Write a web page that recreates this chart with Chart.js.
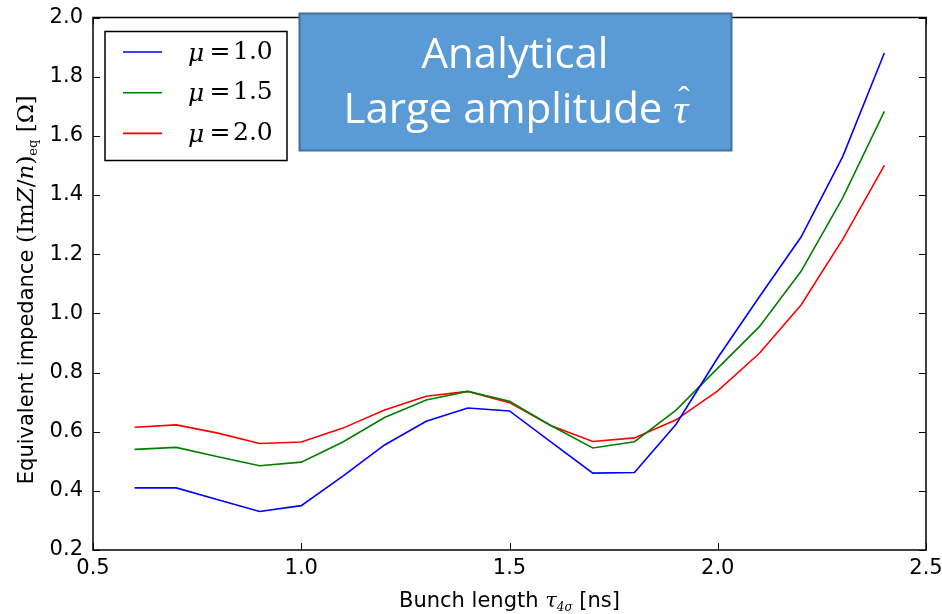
<!DOCTYPE html>
<html>
<head>
<meta charset="utf-8">
<script src="https://cdn.jsdelivr.net/npm/chart.js@4"></script>
<style>
  html, body { margin: 0; padding: 0; background: #fff; }
  #chart { display: block; }
</style>
</head>
<body>
<canvas id="chart" width="942" height="614"></canvas>
<script>
// bunch length [ns]
const bunchLength = [0.6, 0.7, 0.8, 0.9, 1.0, 1.1, 1.2, 1.3, 1.4, 1.5, 1.6, 1.7, 1.8, 1.9, 2.0, 2.1, 2.2, 2.3, 2.4];
const muLabels = ['1.0', '1.5', '2.0'];
// equivalent impedance for each mu
const impMu10 = [0.41, 0.41, 0.37, 0.33, 0.35, 0.45, 0.555, 0.635, 0.68, 0.67, 0.565, 0.46, 0.462, 0.625, 0.85, 1.056, 1.258, 1.53, 1.88];
const impMu15 = [0.54, 0.547, 0.515, 0.485, 0.497, 0.565, 0.648, 0.707, 0.736, 0.703, 0.62, 0.545, 0.566, 0.673, 0.815, 0.955, 1.142, 1.39, 1.683];
const impMu20 = [0.615, 0.623, 0.595, 0.56, 0.565, 0.612, 0.673, 0.72, 0.736, 0.698, 0.62, 0.567, 0.579, 0.64, 0.738, 0.865, 1.028, 1.25, 1.50];
const lineColors = ['#0000ff', '#008000', '#ff0000'];

const SANS = "'DejaVu Sans'";
const SERIF = "'DejaVu Serif'";

function drawRuns(ctx, runs, x, y) {
  // runs: [text, font, dy]; drawn centred on x
  let total = 0;
  runs.forEach(r => { ctx.font = r[1]; total += ctx.measureText(r[0]).width; });
  let cx = x - total / 2;
  ctx.textAlign = 'left';
  runs.forEach(r => {
    ctx.font = r[1];
    ctx.fillText(r[0], cx, y + (r[2] || 0));
    cx += ctx.measureText(r[0]).width;
  });
}

const decorations = {
  id: 'decorations',
  afterDraw(chart) {
    const ctx = chart.ctx;
    const a = chart.chartArea;
    const xs = chart.scales.x, ys = chart.scales.y;
    ctx.save();

    // frame
    ctx.strokeStyle = '#000';
    ctx.lineWidth = 1.5;
    ctx.strokeRect(a.left, a.top, a.right - a.left, a.bottom - a.top);

    // inward ticks on all four sides
    ctx.lineWidth = 1;
    ctx.beginPath();
    xs.ticks.forEach(t => {
      const px = Math.round(xs.getPixelForValue(t.value)) + 0.5;
      ctx.moveTo(px, a.bottom); ctx.lineTo(px, a.bottom - 7);
      ctx.moveTo(px, a.top); ctx.lineTo(px, a.top + 7);
    });
    ys.ticks.forEach(t => {
      const py = Math.round(ys.getPixelForValue(t.value)) + 0.5;
      ctx.moveTo(a.left, py); ctx.lineTo(a.left + 7, py);
      ctx.moveTo(a.right, py); ctx.lineTo(a.right - 7, py);
    });
    ctx.stroke();

    // legend
    ctx.fillStyle = '#fff';
    ctx.fillRect(105, 31.5, 182, 129);
    ctx.strokeStyle = '#000';
    ctx.lineWidth = 1.5;
    ctx.strokeRect(105, 31.5, 182, 129);
    chart.data.datasets.forEach((ds, i) => {
      const ly = 52 + i * 40.7;
      ctx.strokeStyle = ds.borderColor;
      ctx.lineWidth = 1.6;
      ctx.beginPath();
      ctx.moveTo(123, ly); ctx.lineTo(162, ly);
      ctx.stroke();
      ctx.fillStyle = '#000';
      ctx.textBaseline = 'middle';
      ctx.textAlign = 'left';
      ctx.font = 'italic 25px ' + SERIF;
      ctx.fillText('μ', 188, ly + 2);
      ctx.font = '25px ' + SERIF;
      ctx.textAlign = 'center';
      ctx.fillText('=', 220, ly);
      ctx.textAlign = 'left';
      ctx.fillText(muLabels[i], 233, ly);
    });

    // axis titles
    ctx.fillStyle = '#000';
    ctx.textBaseline = 'alphabetic';
    drawRuns(ctx, [
      ['Bunch length ', '21px ' + SANS],
      ['τ', 'italic 21px ' + SERIF],
      ['4σ', 'italic 12px ' + SERIF, 4],
      [' [ns]', '21px ' + SANS]
    ], (a.left + a.right) / 2, 607);

    ctx.save();
    ctx.translate(33, (a.top + a.bottom) / 2 + 6);
    ctx.rotate(-Math.PI / 2);
    drawRuns(ctx, [
      ['Equivalent impedance ', '21px ' + SANS],
      ['(Im', '23px ' + SERIF],
      ['Z', 'italic 23px ' + SERIF],
      ['/', '23px ' + SERIF],
      ['n', 'italic 23px ' + SERIF],
      [')', '23px ' + SERIF],
      ['eq', '13px ' + SERIF, 4],
      [' [Ω]', '23px ' + SERIF]
    ], 0, 0);
    ctx.restore();

    // annotation box
    ctx.fillStyle = '#5b9bd5';
    ctx.fillRect(299.5, 13.5, 432, 137);
    ctx.strokeStyle = '#41719c';
    ctx.lineWidth = 2;
    ctx.strokeRect(299.5, 13.5, 432, 137);
    ctx.fillStyle = '#fff';
    ctx.textAlign = 'center';
    ctx.font = "42px 'Open Sans'";
    ctx.fillText('Analytical', 515, 68);
    const lineTwo = 'Large amplitude ';
    const w1 = ctx.measureText(lineTwo).width;
    ctx.font = "italic 42px 'Liberation Serif'";
    const w2 = ctx.measureText('τ').width;
    const x0 = 516 - (w1 + w2) / 2;
    ctx.textAlign = 'left';
    ctx.font = "42px 'Open Sans'";
    ctx.fillText(lineTwo, x0, 123);
    ctx.font = "italic 42px 'Liberation Serif'";
    ctx.fillText('τ', x0 + w1, 123);
    ctx.font = "34px 'Liberation Serif'";
    ctx.textAlign = 'center';
    ctx.fillText('ˆ', x0 + w1 + w2 / 2 + 3, 110);

    ctx.restore();
  }
};

const makeSeries = vals => vals.map((v, i) => ({ x: bunchLength[i], y: v }));

new Chart(document.getElementById('chart'), {
  type: 'line',
  data: {
    datasets: [impMu10, impMu15, impMu20].map((vals, i) => ({
      label: 'μ = ' + muLabels[i],
      data: makeSeries(vals),
      borderColor: lineColors[i],
      borderWidth: 1.6,
      pointRadius: 0,
      tension: 0,
      fill: false
    }))
  },
  options: {
    responsive: false,
    animation: false,
    layout: { padding: { top: 17.5, right: 16, left: 0, bottom: 0 } },
    plugins: {
      legend: { display: false },
      tooltip: { enabled: false }
    },
    scales: {
      x: {
        type: 'linear',
        min: 0.5,
        max: 2.5,
        ticks: {
          stepSize: 0.5,
          color: '#000',
          font: { family: 'DejaVu Sans', size: 21 },
          padding: 6,
          callback: v => v.toFixed(1)
        },
        grid: { drawOnChartArea: false, drawTicks: false },
        border: { display: false },
        afterFit: s => { s.height = 64; s.paddingLeft = 0; s.paddingRight = 0; }
      },
      y: {
        min: 0.2,
        max: 2.0,
        ticks: {
          stepSize: 0.2,
          color: '#000',
          font: { family: 'DejaVu Sans', size: 21 },
          padding: 10,
          callback: v => v.toFixed(1)
        },
        grid: { drawOnChartArea: false, drawTicks: false },
        border: { display: false },
        afterFit: s => { s.width = 93; s.paddingTop = 0; s.paddingBottom = 0; }
      }
    }
  },
  plugins: [decorations]
});
</script>
</body>
</html>
